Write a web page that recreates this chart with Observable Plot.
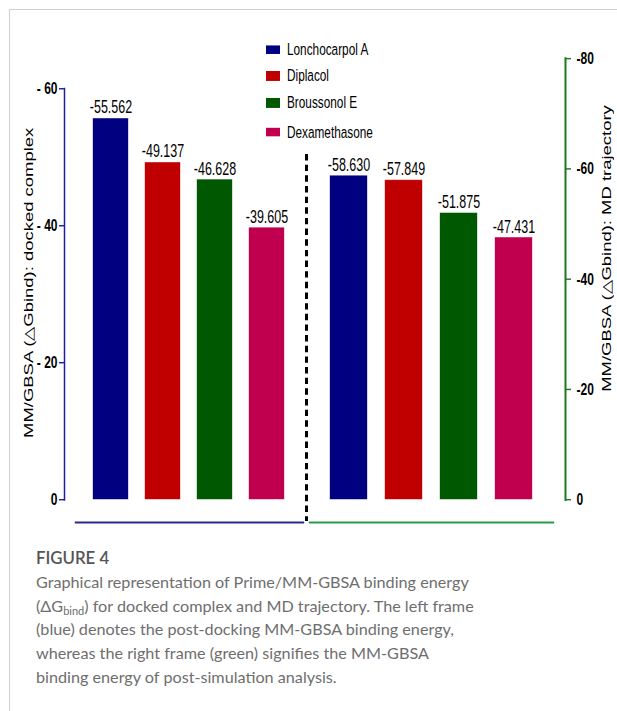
<!DOCTYPE html>
<html><head><meta charset="utf-8">
<script src="https://cdn.jsdelivr.net/npm/d3@7"></script>
<script src="https://cdn.jsdelivr.net/npm/@observablehq/plot@0.6"></script>
<style>
html,body{margin:0;padding:0;background:#fff;}
body{width:617px;height:711px;position:relative;overflow:hidden;}
#page{position:absolute;left:9px;top:9px;width:640px;height:740px;border-left:1.5px solid #d0d0d0;border-top:1.5px solid #d0d0d0;}
#chart{position:absolute;left:0;top:0;width:617px;height:373px;transform:scaleY(1.42);transform-origin:0 0;}
#chart svg{position:absolute;left:0;top:0;}
.lg-sw{position:absolute;width:14px;height:6.1px;}
.lg-tx{position:absolute;font-family:'Liberation Sans Narrow','Arial Narrow',sans-serif;font-size:11.8px;line-height:12px;color:#000;white-space:nowrap;}
#caption{position:absolute;left:36px;top:546px;font-family:Lato,'Open Sans',sans-serif;color:#6e6e6e;white-space:nowrap;}
#caption .fig{font-size:16.8px;line-height:24px;font-weight:600;color:#555;}
#caption .txt{font-size:16.2px;line-height:23.7px;}
#caption sub{font-size:11px;vertical-align:-3px;line-height:0;}
</style>
</head><body>
<div id="page"></div>
<div id="chart"></div>
<div id="caption">
<div class="fig">FIGURE 4</div>
<div class="txt">Graphical representation of Prime/MM-GBSA binding energy<br>(ΔG<sub>bind</sub>) for docked complex and MD trajectory. The left frame<br>(blue) denotes the post-docking MM-GBSA binding energy,<br>whereas the right frame (green) signifies the MM-GBSA<br>binding energy of post-simulation analysis.</div>
</div>
<script>
const compounds = ["Lonchocarpol A", "Diplacol", "Broussonol E", "Dexamethasone"];
const colors = ["#000080", "#c00000", "#005800", "#c0004e"];
const dockedValues = [-55.562, -49.137, -46.628, -39.605];
const mdValues = [-58.630, -57.849, -51.875, -47.431];
const dockedTicks = [0, -20, -40, -60];
const mdTicks = [0, -20, -40, -60, -80];
const dockedTitle = "MM/GBSA (△Gbind): docked complex";
const mdTitle = "MM/GBSA (△Gbind): MD trajectory";

const W = 617, H = 373;
const narrow = "'Liberation Sans Narrow','Arial Narrow',sans-serif";
const regular = "'Liberation Sans',Arial,sans-serif";
const docked = compounds.map((c, i) => ({compound: c, value: dockedValues[i]}));
const md = compounds.map((c, i) => ({compound: c, value: mdValues[i]}));
const fmtVal = v => "-" + Math.abs(v).toFixed(3);
const color = {domain: compounds, range: colors};

const left = Plot.plot({
  width: W, height: H,
  marginLeft: 64, marginRight: W - 306, marginTop: 62, marginBottom: 21.6,
  style: {background: "transparent", fontFamily: narrow, overflow: "visible"},
  x: {type: "band", domain: compounds, range: [92.7, 285], paddingInner: 0.33, paddingOuter: 0, axis: null},
  y: {domain: [0, -60], axis: null},
  color,
  marks: [
    Plot.barY(docked, {x: "compound", y: "value", fill: "compound", stroke: "compound", strokeWidth: 0.6, strokeOpacity: 0.6}),
    Plot.text(docked, {x: "compound", y: "value", text: d => fmtVal(d.value), lineAnchor: "bottom", dy: -4, fontSize: 12.5, fill: "black"}),
    Plot.axisY({ticks: dockedTicks, tickFormat: d => d === 0 ? "0" : "- " + Math.abs(d), tickSize: 5, tickPadding: 2, fontSize: 12, fontWeight: "bold", stroke: "#1f1f99", fill: "black", label: null}),
    Plot.frame({anchor: "left", stroke: "#1f1f99", strokeWidth: 1.5}),
    Plot.frame({anchor: "right", stroke: "black", strokeWidth: 3, strokeDasharray: "4.5 3", strokeLinecap: "butt", insetTop: 46, insetBottom: -15}),
    Plot.frame({anchor: "bottom", stroke: "#2a2a8a", strokeWidth: 1.4, insetLeft: 11, insetRight: 3, insetBottom: -16}),
    Plot.text([dockedTitle], {frameAnchor: "left", textAnchor: "middle", rotate: -90, dx: -36, dy: -8, fontSize: 13, fontFamily: regular, fill: "black"})
  ]
});

const right = Plot.plot({
  width: W, height: H,
  marginLeft: 309, marginRight: 52, marginTop: 40.8, marginBottom: 21.6,
  style: {background: "transparent", fontFamily: narrow, overflow: "visible"},
  x: {type: "band", domain: compounds, range: [328, 533.5], paddingInner: 0.33, paddingOuter: 0, axis: null},
  y: {domain: [0, -80], axis: null},
  color,
  marks: [
    Plot.barY(md, {x: "compound", y: "value", fill: "compound", stroke: "compound", strokeWidth: 0.6, strokeOpacity: 0.6}),
    Plot.text(md, {x: "compound", y: "value", text: d => fmtVal(d.value), lineAnchor: "bottom", dy: -4, fontSize: 12.5, fill: "black"}),
    Plot.axisY({anchor: "right", ticks: mdTicks, tickFormat: d => d === 0 ? "0" : "-" + Math.abs(d), tickSize: 5, tickPadding: 6, fontSize: 12, fontWeight: "bold", stroke: "#1a7a1a", fill: "black", label: null}),
    Plot.frame({anchor: "right", stroke: "#1a7a1a", strokeWidth: 2}),
    Plot.frame({anchor: "bottom", stroke: "#2a9a4a", strokeWidth: 1.4, insetLeft: 0, insetRight: 12, insetBottom: -16}),
    Plot.text([mdTitle], {frameAnchor: "right", textAnchor: "middle", rotate: -90, dx: 41, dy: -21.6, fontSize: 13, fontFamily: regular, fill: "black"})
  ]
});

const chart = document.getElementById("chart");
chart.appendChild(left);
chart.appendChild(right);

// legend built from the same arrays
const rowY = [35.2, 53.5, 72.5, 93];
compounds.forEach((c, i) => {
  const sw = document.createElement("div");
  sw.className = "lg-sw";
  sw.style.left = "266px";
  sw.style.top = (rowY[i] - 3.05) + "px";
  sw.style.background = colors[i];
  chart.appendChild(sw);
  const tx = document.createElement("div");
  tx.className = "lg-tx";
  tx.style.left = "287px";
  tx.style.top = (rowY[i] - 6.5) + "px";
  tx.textContent = c;
  chart.appendChild(tx);
});
</script>
</body></html>
